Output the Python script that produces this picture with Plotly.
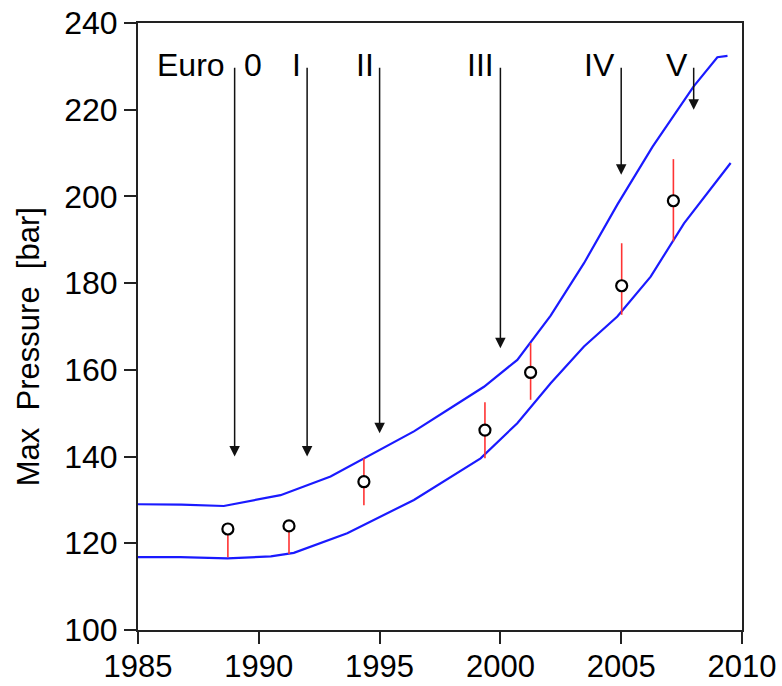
import plotly.graph_objects as go

# Envelope of peak cylinder pressure over the years
upper_years = [1985.0, 1986.8, 1988.55, 1990.9, 1992.97, 1994.35, 1996.42, 1997.94,
               1999.32, 2000.7, 2002.08, 2003.46, 2004.84, 2006.3, 2008.0, 2008.98, 2009.4]
upper_bar = [129.0, 128.9, 128.6, 131.1, 135.4, 139.6, 145.8, 151.2,
             156.1, 162.3, 172.5, 184.6, 198.1, 211.5, 225.4, 232.1, 232.4]

lower_years = [1985.0, 1986.76, 1988.7, 1990.5, 1991.45, 1993.66, 1996.42, 1999.18,
               2000.7, 2002.08, 2003.46, 2004.84, 2006.22, 2007.6, 2009.53]
lower_bar = [116.8, 116.8, 116.5, 117.0, 117.8, 122.3, 130.0, 139.6,
             147.7, 156.9, 165.4, 172.3, 181.5, 193.8, 207.7]

# Measured engine values with their spread
point_years = [1988.72, 1991.25, 1994.35, 1999.36, 2001.25, 2005.02, 2007.16]
point_bar = [123.3, 124.0, 134.2, 146.1, 159.4, 179.4, 199.0]
err_plus = [0.0, 0.0, 5.4, 6.4, 6.8, 9.8, 9.6]
err_minus = [6.5, 6.5, 5.4, 6.5, 6.3, 6.7, 9.4]

# Emission standards: introduction year and where each arrow points
stage_labels = ["0", "I", "II", "III", "IV", "V"]
stage_years = [1989, 1992, 1995, 2000, 2005, 2008]
arrow_tips = [140.0, 140.0, 145.4, 165.0, 205.0, 220.0]
arrow_top = 230.0
label_level = 230.3

x_ticks = [1985, 1990, 1995, 2000, 2005, 2010]
y_ticks = [100, 120, 140, 160, 180, 200, 220, 240]

FONT = "Liberation Sans, Arial, Helvetica, sans-serif"
AXIS = "#222222"

fig = go.Figure()

for xs, ys in ((upper_years, upper_bar), (lower_years, lower_bar)):
    fig.add_trace(go.Scatter(x=xs, y=ys, mode="lines",
                             line=dict(color="#1a1aff", width=2.2),
                             showlegend=False, hoverinfo="skip"))

fig.add_trace(go.Scatter(
    x=point_years, y=point_bar, mode="markers",
    marker=dict(symbol="circle", size=11, color="white",
                line=dict(color="black", width=2.2)),
    error_y=dict(type="data", symmetric=False, array=err_plus, arrayminus=err_minus,
                 color="#ff3333", thickness=1.6, width=0),
    showlegend=False,
))

annotations = []
for lab, yr, tip in zip(stage_labels, stage_years, arrow_tips):
    annotations.append(dict(
        x=yr, y=tip, ax=yr, ay=arrow_top, xref="x", yref="y", axref="x", ayref="y",
        text="", showarrow=True, arrowhead=2, arrowsize=1.4, arrowwidth=1.5,
        arrowcolor="#111111", standoff=0,
    ))
    if lab == "0":
        annotations.append(dict(x=yr, y=label_level, xref="x", yref="y", text="Euro",
                                showarrow=False, xanchor="right", yanchor="middle",
                                xshift=-8, font=dict(family=FONT, size=32, color="black")))
        annotations.append(dict(x=yr, y=label_level, xref="x", yref="y", text=lab,
                                showarrow=False, xanchor="left", yanchor="middle",
                                xshift=7, font=dict(family=FONT, size=32, color="black")))
    else:
        annotations.append(dict(x=yr, y=label_level, xref="x", yref="y", text=lab,
                                showarrow=False, xanchor="right", yanchor="middle",
                                xshift=-4, font=dict(family=FONT, size=32, color="black")))

annotations.append(dict(x=-0.182, y=0.466, xref="paper", yref="paper",
                        text="Max  Pressure  [bar]", textangle=-90, showarrow=False,
                        xanchor="center", yanchor="middle",
                        font=dict(family=FONT, size=31, color="black")))

fig.update_layout(
    width=782, height=686,
    margin=dict(l=138, r=40, t=23, b=56, autoexpand=False),
    paper_bgcolor="white", plot_bgcolor="white",
    font=dict(family=FONT, size=32, color="black"),
    annotations=annotations,
    xaxis=dict(range=[1985, 2010], tickvals=x_ticks, ticks="outside", ticklen=12,
               tickwidth=1.5, tickcolor=AXIS, showline=True, linecolor=AXIS, linewidth=2,
               mirror=True, showgrid=False, zeroline=False, automargin=False,
               ticklabelstandoff=-4,
               tickfont=dict(family=FONT, size=31, color="black")),
    yaxis=dict(range=[100, 240], tickvals=y_ticks, ticks="outside", ticklen=12,
               tickwidth=1.5, tickcolor=AXIS, showline=True, linecolor=AXIS, linewidth=2,
               mirror=True, showgrid=False, zeroline=False, automargin=False,
               tickfont=dict(family=FONT, size=32, color="black")),
)

fig.write_html("out.html")
